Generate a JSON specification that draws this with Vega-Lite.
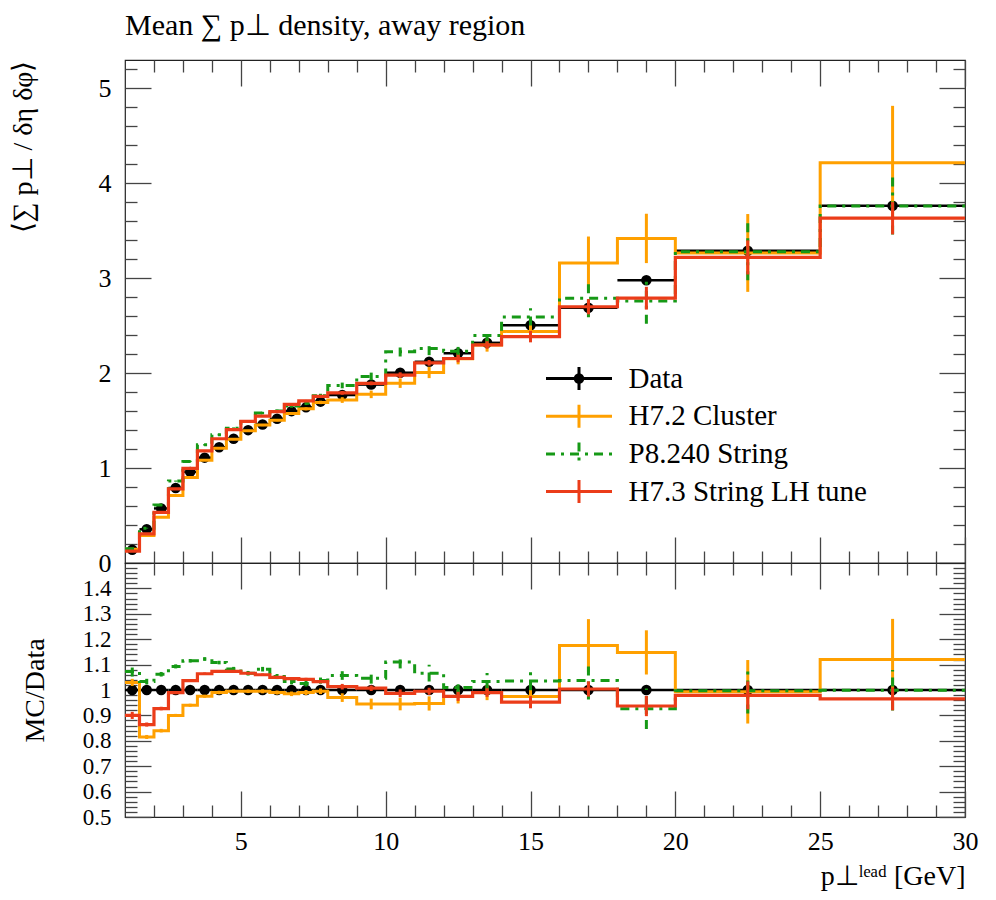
{
  "$schema": "https://vega.github.io/schema/vega-lite/v6.json",
  "padding": {"left": 8, "top": 10, "right": 0, "bottom": 0},
  "background": "white",
  "config": {
    "font": "Liberation Serif",
    "view": {"stroke": "#222", "strokeWidth": 1.2},
    "axis": {"domain": false, "grid": false, "tickColor": "#444", "tickWidth": 1.3, "labelFont": "Liberation Serif", "labelFontSize": 26, "labelColor": "#000", "labelFlush": false, "labelOverlap": false, "titleFont": "Liberation Serif", "titleFontSize": 28, "titleFontWeight": "normal", "titleColor": "#000"}
  },
  "datasets": {
    "h": [
      {"s":"Data","xlo":1,"xhi":1.5,"x":1.25,"y":0.14,"e":0.002,"r":1,"re":0.014},
      {"s":"Data","xlo":1.5,"xhi":2,"x":1.75,"y":0.355,"e":0.003,"r":1,"re":0.008},
      {"s":"Data","xlo":2,"xhi":2.5,"x":2.25,"y":0.575,"e":0.004,"r":1,"re":0.007},
      {"s":"Data","xlo":2.5,"xhi":3,"x":2.75,"y":0.79,"e":0.005,"r":1,"re":0.006},
      {"s":"Data","xlo":3,"xhi":3.5,"x":3.25,"y":0.96,"e":0.005,"r":1,"re":0.005},
      {"s":"Data","xlo":3.5,"xhi":4,"x":3.75,"y":1.11,"e":0.005,"r":1,"re":0.005},
      {"s":"Data","xlo":4,"xhi":4.5,"x":4.25,"y":1.22,"e":0.006,"r":1,"re":0.005},
      {"s":"Data","xlo":4.5,"xhi":5,"x":4.75,"y":1.31,"e":0.006,"r":1,"re":0.005},
      {"s":"Data","xlo":5,"xhi":5.5,"x":5.25,"y":1.40,"e":0.006,"r":1,"re":0.004},
      {"s":"Data","xlo":5.5,"xhi":6,"x":5.75,"y":1.46,"e":0.006,"r":1,"re":0.004},
      {"s":"Data","xlo":6,"xhi":6.5,"x":6.25,"y":1.52,"e":0.007,"r":1,"re":0.005},
      {"s":"Data","xlo":6.5,"xhi":7,"x":6.75,"y":1.60,"e":0.007,"r":1,"re":0.004},
      {"s":"Data","xlo":7,"xhi":7.5,"x":7.25,"y":1.64,"e":0.007,"r":1,"re":0.004},
      {"s":"Data","xlo":7.5,"xhi":8,"x":7.75,"y":1.70,"e":0.008,"r":1,"re":0.005},
      {"s":"Data","xlo":8,"xhi":9,"x":8.5,"y":1.77,"e":0.008,"r":1,"re":0.005},
      {"s":"Data","xlo":9,"xhi":10,"x":9.5,"y":1.88,"e":0.01,"r":1,"re":0.005},
      {"s":"Data","xlo":10,"xhi":11,"x":10.5,"y":2.005,"e":0.012,"r":1,"re":0.006},
      {"s":"Data","xlo":11,"xhi":12,"x":11.5,"y":2.12,"e":0.014,"r":1,"re":0.007},
      {"s":"Data","xlo":12,"xhi":13,"x":12.5,"y":2.21,"e":0.016,"r":1,"re":0.007},
      {"s":"Data","xlo":13,"xhi":14,"x":13.5,"y":2.32,"e":0.02,"r":1,"re":0.009},
      {"s":"Data","xlo":14,"xhi":16,"x":15,"y":2.505,"e":0.02,"r":1,"re":0.008},
      {"s":"Data","xlo":16,"xhi":18,"x":17,"y":2.69,"e":0.03,"r":1,"re":0.011},
      {"s":"Data","xlo":18,"xhi":20,"x":19,"y":2.98,"e":0.04,"r":1,"re":0.013},
      {"s":"Data","xlo":20,"xhi":25,"x":22.5,"y":3.29,"e":0.04,"r":1,"re":0.012},
      {"s":"Data","xlo":25,"xhi":30,"x":27.5,"y":3.765,"e":0.06,"r":1,"re":0.016},

      {"s":"H7.2 Cluster","xlo":1,"xhi":1.5,"x":1.25,"y":0.144,"e":0.002,"r":1.03,"re":0.014},
      {"s":"H7.2 Cluster","xlo":1.5,"xhi":2,"x":1.75,"y":0.289,"e":0.003,"r":0.815,"re":0.008},
      {"s":"H7.2 Cluster","xlo":2,"xhi":2.5,"x":2.25,"y":0.483,"e":0.004,"r":0.84,"re":0.007},
      {"s":"H7.2 Cluster","xlo":2.5,"xhi":3,"x":2.75,"y":0.711,"e":0.005,"r":0.90,"re":0.006},
      {"s":"H7.2 Cluster","xlo":3,"xhi":3.5,"x":3.25,"y":0.902,"e":0.006,"r":0.94,"re":0.006},
      {"s":"H7.2 Cluster","xlo":3.5,"xhi":4,"x":3.75,"y":1.082,"e":0.007,"r":0.975,"re":0.006},
      {"s":"H7.2 Cluster","xlo":4,"xhi":4.5,"x":4.25,"y":1.208,"e":0.008,"r":0.99,"re":0.007},
      {"s":"H7.2 Cluster","xlo":4.5,"xhi":5,"x":4.75,"y":1.303,"e":0.009,"r":0.995,"re":0.007},
      {"s":"H7.2 Cluster","xlo":5,"xhi":5.5,"x":5.25,"y":1.393,"e":0.01,"r":0.995,"re":0.007},
      {"s":"H7.2 Cluster","xlo":5.5,"xhi":6,"x":5.75,"y":1.453,"e":0.011,"r":0.995,"re":0.008},
      {"s":"H7.2 Cluster","xlo":6,"xhi":6.5,"x":6.25,"y":1.505,"e":0.012,"r":0.99,"re":0.008},
      {"s":"H7.2 Cluster","xlo":6.5,"xhi":7,"x":6.75,"y":1.576,"e":0.014,"r":0.985,"re":0.009},
      {"s":"H7.2 Cluster","xlo":7,"xhi":7.5,"x":7.25,"y":1.624,"e":0.016,"r":0.99,"re":0.01},
      {"s":"H7.2 Cluster","xlo":7.5,"xhi":8,"x":7.75,"y":1.692,"e":0.018,"r":0.995,"re":0.011},
      {"s":"H7.2 Cluster","xlo":8,"xhi":9,"x":8.5,"y":1.717,"e":0.03,"r":0.97,"re":0.017},
      {"s":"H7.2 Cluster","xlo":9,"xhi":10,"x":9.5,"y":1.777,"e":0.04,"r":0.945,"re":0.021},
      {"s":"H7.2 Cluster","xlo":10,"xhi":11,"x":10.5,"y":1.895,"e":0.05,"r":0.945,"re":0.025},
      {"s":"H7.2 Cluster","xlo":11,"xhi":12,"x":11.5,"y":2.008,"e":0.06,"r":0.947,"re":0.028},
      {"s":"H7.2 Cluster","xlo":12,"xhi":13,"x":12.5,"y":2.153,"e":0.06,"r":0.974,"re":0.027},
      {"s":"H7.2 Cluster","xlo":13,"xhi":14,"x":13.5,"y":2.297,"e":0.07,"r":0.99,"re":0.03},
      {"s":"H7.2 Cluster","xlo":14,"xhi":16,"x":15,"y":2.44,"e":0.09,"r":0.974,"re":0.036},
      {"s":"H7.2 Cluster","xlo":16,"xhi":18,"x":17,"y":3.16,"e":0.28,"r":1.175,"re":0.104},
      {"s":"H7.2 Cluster","xlo":18,"xhi":20,"x":19,"y":3.42,"e":0.26,"r":1.148,"re":0.087},
      {"s":"H7.2 Cluster","xlo":20,"xhi":25,"x":22.5,"y":3.267,"e":0.41,"r":0.993,"re":0.125},
      {"s":"H7.2 Cluster","xlo":25,"xhi":30,"x":27.5,"y":4.217,"e":0.6,"r":1.12,"re":0.16},

      {"s":"P8.240 String","xlo":1,"xhi":1.5,"x":1.25,"y":0.150,"e":0.003,"r":1.073,"re":0.02},
      {"s":"P8.240 String","xlo":1.5,"xhi":2,"x":1.75,"y":0.367,"e":0.004,"r":1.033,"re":0.011},
      {"s":"P8.240 String","xlo":2,"xhi":2.5,"x":2.25,"y":0.611,"e":0.005,"r":1.062,"re":0.009},
      {"s":"P8.240 String","xlo":2.5,"xhi":3,"x":2.75,"y":0.863,"e":0.006,"r":1.093,"re":0.008},
      {"s":"P8.240 String","xlo":3,"xhi":3.5,"x":3.25,"y":1.070,"e":0.007,"r":1.115,"re":0.007},
      {"s":"P8.240 String","xlo":3.5,"xhi":4,"x":3.75,"y":1.245,"e":0.008,"r":1.122,"re":0.007},
      {"s":"P8.240 String","xlo":4,"xhi":4.5,"x":4.25,"y":1.352,"e":0.009,"r":1.108,"re":0.007},
      {"s":"P8.240 String","xlo":4.5,"xhi":5,"x":4.75,"y":1.419,"e":0.01,"r":1.083,"re":0.008},
      {"s":"P8.240 String","xlo":5,"xhi":5.5,"x":5.25,"y":1.492,"e":0.012,"r":1.066,"re":0.009},
      {"s":"P8.240 String","xlo":5.5,"xhi":6,"x":5.75,"y":1.580,"e":0.013,"r":1.082,"re":0.009},
      {"s":"P8.240 String","xlo":6,"xhi":6.5,"x":6.25,"y":1.601,"e":0.015,"r":1.053,"re":0.01},
      {"s":"P8.240 String","xlo":6.5,"xhi":7,"x":6.75,"y":1.653,"e":0.017,"r":1.033,"re":0.011},
      {"s":"P8.240 String","xlo":7,"xhi":7.5,"x":7.25,"y":1.683,"e":0.019,"r":1.026,"re":0.012},
      {"s":"P8.240 String","xlo":7.5,"xhi":8,"x":7.75,"y":1.763,"e":0.02,"r":1.037,"re":0.012},
      {"s":"P8.240 String","xlo":8,"xhi":9,"x":8.5,"y":1.871,"e":0.03,"r":1.057,"re":0.017},
      {"s":"P8.240 String","xlo":9,"xhi":10,"x":9.5,"y":1.966,"e":0.04,"r":1.046,"re":0.021},
      {"s":"P8.240 String","xlo":10,"xhi":11,"x":10.5,"y":2.226,"e":0.05,"r":1.11,"re":0.025},
      {"s":"P8.240 String","xlo":11,"xhi":12,"x":11.5,"y":2.260,"e":0.07,"r":1.066,"re":0.033},
      {"s":"P8.240 String","xlo":12,"xhi":13,"x":12.5,"y":2.232,"e":0.05,"r":1.01,"re":0.023},
      {"s":"P8.240 String","xlo":13,"xhi":14,"x":13.5,"y":2.397,"e":0.08,"r":1.033,"re":0.034},
      {"s":"P8.240 String","xlo":14,"xhi":16,"x":15,"y":2.593,"e":0.09,"r":1.035,"re":0.036},
      {"s":"P8.240 String","xlo":16,"xhi":18,"x":17,"y":2.79,"e":0.2,"r":1.037,"re":0.074},
      {"s":"P8.240 String","xlo":18,"xhi":20,"x":19,"y":2.76,"e":0.24,"r":0.926,"re":0.08},
      {"s":"P8.240 String","xlo":20,"xhi":25,"x":22.5,"y":3.28,"e":0.3,"r":0.997,"re":0.09},
      {"s":"P8.240 String","xlo":25,"xhi":30,"x":27.5,"y":3.761,"e":0.3,"r":0.999,"re":0.08},

      {"s":"H7.3 String LH tune","xlo":1,"xhi":1.5,"x":1.25,"y":0.126,"e":0.002,"r":0.90,"re":0.014},
      {"s":"H7.3 String LH tune","xlo":1.5,"xhi":2,"x":1.75,"y":0.307,"e":0.003,"r":0.864,"re":0.008},
      {"s":"H7.3 String LH tune","xlo":2,"xhi":2.5,"x":2.25,"y":0.533,"e":0.004,"r":0.927,"re":0.007},
      {"s":"H7.3 String LH tune","xlo":2.5,"xhi":3,"x":2.75,"y":0.782,"e":0.005,"r":0.99,"re":0.006},
      {"s":"H7.3 String LH tune","xlo":3,"xhi":3.5,"x":3.25,"y":0.996,"e":0.005,"r":1.037,"re":0.005},
      {"s":"H7.3 String LH tune","xlo":3.5,"xhi":4,"x":3.75,"y":1.181,"e":0.006,"r":1.064,"re":0.005},
      {"s":"H7.3 String LH tune","xlo":4,"xhi":4.5,"x":4.25,"y":1.309,"e":0.006,"r":1.073,"re":0.005},
      {"s":"H7.3 String LH tune","xlo":4.5,"xhi":5,"x":4.75,"y":1.406,"e":0.007,"r":1.073,"re":0.005},
      {"s":"H7.3 String LH tune","xlo":5,"xhi":5.5,"x":5.25,"y":1.492,"e":0.007,"r":1.066,"re":0.005},
      {"s":"H7.3 String LH tune","xlo":5.5,"xhi":6,"x":5.75,"y":1.548,"e":0.008,"r":1.06,"re":0.005},
      {"s":"H7.3 String LH tune","xlo":6,"xhi":6.5,"x":6.25,"y":1.596,"e":0.008,"r":1.05,"re":0.005},
      {"s":"H7.3 String LH tune","xlo":6.5,"xhi":7,"x":6.75,"y":1.672,"e":0.009,"r":1.045,"re":0.006},
      {"s":"H7.3 String LH tune","xlo":7,"xhi":7.5,"x":7.25,"y":1.709,"e":0.009,"r":1.042,"re":0.006},
      {"s":"H7.3 String LH tune","xlo":7.5,"xhi":8,"x":7.75,"y":1.756,"e":0.01,"r":1.033,"re":0.006},
      {"s":"H7.3 String LH tune","xlo":8,"xhi":9,"x":8.5,"y":1.793,"e":0.02,"r":1.013,"re":0.011},
      {"s":"H7.3 String LH tune","xlo":9,"xhi":10,"x":9.5,"y":1.893,"e":0.02,"r":1.007,"re":0.011},
      {"s":"H7.3 String LH tune","xlo":10,"xhi":11,"x":10.5,"y":1.979,"e":0.03,"r":0.987,"re":0.015},
      {"s":"H7.3 String LH tune","xlo":11,"xhi":12,"x":11.5,"y":2.109,"e":0.03,"r":0.995,"re":0.014},
      {"s":"H7.3 String LH tune","xlo":12,"xhi":13,"x":12.5,"y":2.155,"e":0.04,"r":0.975,"re":0.018},
      {"s":"H7.3 String LH tune","xlo":13,"xhi":14,"x":13.5,"y":2.297,"e":0.04,"r":0.99,"re":0.017},
      {"s":"H7.3 String LH tune","xlo":14,"xhi":16,"x":15,"y":2.385,"e":0.06,"r":0.952,"re":0.024},
      {"s":"H7.3 String LH tune","xlo":16,"xhi":18,"x":17,"y":2.70,"e":0.08,"r":1.004,"re":0.03},
      {"s":"H7.3 String LH tune","xlo":18,"xhi":20,"x":19,"y":2.79,"e":0.12,"r":0.937,"re":0.04},
      {"s":"H7.3 String LH tune","xlo":20,"xhi":25,"x":22.5,"y":3.22,"e":0.18,"r":0.979,"re":0.055},
      {"s":"H7.3 String LH tune","xlo":25,"xhi":30,"x":27.5,"y":3.633,"e":0.17,"r":0.965,"re":0.045}
    ]
  },
  "data": {"name": "h"},
  "spacing": 0,
  "bounds": "flush",
  "vconcat": [
    {
      "width": 840,
      "height": 503,
      "title": {"text": "Mean ∑ p⊥ density, away region", "anchor": "start", "frame": "group", "fontSize": 30, "font": "Liberation Serif", "fontWeight": "normal", "color": "#000", "offset": 18},
      "resolve": {"axis": {"x": "independent", "y": "independent"}},
      "layer": [
        {
          "transform": [{"filter": {"field": "s", "equal": "Data"}}],
          "mark": {"type": "rule", "strokeWidth": 2.5, "color": "#000000"},
          "encoding": {
            "x": {"field": "xlo", "type": "quantitative", "scale": {"domain": [1, 30], "nice": false, "zero": false}, "axis": {"orient": "bottom", "values": [5,10,15,20,25,30], "tickSize": -26, "labels": false, "title": null}},
            "x2": {"field": "xhi"},
            "y": {"field": "y", "type": "quantitative", "scale": {"domain": [0, 5.3], "nice": false, "zero": false}, "axis": {"orient": "left", "values": [0,1,2,3,4,5], "format": "d", "tickSize": -26, "labelPadding": 40, "title": "⟨∑ p⊥ / δη δφ⟩", "titleAnchor": "end", "titleX": -88, "titleBaseline": "bottom"}}
          }
        },
        {
          "transform": [{"filter": {"field": "s", "equal": "Data"}}],
          "mark": {"type": "errorbar", "thickness": 2.5, "color": "#000000"},
          "encoding": {
            "x": {"field": "x", "type": "quantitative", "scale": {"domain": [1, 30], "nice": false, "zero": false}, "axis": null},
            "y": {"field": "y", "type": "quantitative", "scale": {"domain": [0, 5.3], "nice": false, "zero": false}, "axis": null},
            "yError": {"field": "e"}
          }
        },
        {
          "transform": [{"filter": {"field": "s", "equal": "Data"}}],
          "mark": {"type": "point", "filled": true, "size": 110, "opacity": 1, "color": "#000000"},
          "encoding": {
            "x": {"field": "x", "type": "quantitative", "scale": {"domain": [1, 30], "nice": false, "zero": false}, "axis": {"orient": "bottom", "values": [2,3,4,6,7,8,9,11,12,13,14,16,17,18,19,21,22,23,24,26,27,28,29], "tickSize": -12, "labels": false, "title": null}},
            "y": {"field": "y", "type": "quantitative", "scale": {"domain": [0, 5.3], "nice": false, "zero": false}, "axis": {"orient": "left", "values": [0.2,0.4,0.6,0.8,1.2,1.4,1.6,1.8,2.2,2.4,2.6,2.8,3.2,3.4,3.6,3.8,4.2,4.4,4.6,4.8,5.2], "tickSize": -12, "labels": false, "title": null}},
            "shape": {"field": "s", "type": "nominal", "scale": {"domain": ["Data"], "range": ["circle"]},
              "legend": {"orient": "none", "legendX": 421, "legendY": 304, "title": null, "padding": 0, "offset": 0, "labelFont": "Liberation Serif", "labelFontSize": 29, "labelExpr": "''", "labelOpacity": 0, "symbolSize": 110, "symbolOffset": 18.5, "symbolFillColor": "#000000", "symbolStrokeWidth": 0, "rowPadding": 2.7}}
          }
        },
        {
          "transform": [{"filter": {"field": "s", "equal": "H7.2 Cluster"}}, {"fold": ["xlo", "xhi"], "as": ["edge", "xv"]}],
          "mark": {"type": "line", "strokeWidth": 3, "strokeJoin": "miter"},
          "encoding": {
            "x": {"field": "xv", "type": "quantitative", "scale": {"domain": [1, 30], "nice": false, "zero": false}, "axis": {"orient": "top", "values": [5,10,15,20,25,30], "tickSize": -26, "labels": false, "title": null}},
            "y": {"field": "y", "type": "quantitative", "scale": {"domain": [0, 5.3], "nice": false, "zero": false}, "axis": {"orient": "right", "values": [0,1,2,3,4,5], "tickSize": -26, "labels": false, "title": null}},
            "order": [{"field": "xv", "type": "quantitative"}, {"field": "xlo", "type": "quantitative"}],
            "color": {"field": "s", "type": "nominal", "scale": {"domain": ["Data", "H7.2 Cluster", "P8.240 String", "H7.3 String LH tune"], "range": ["#000000", "#ffa000", "#169916", "#eb3c19"]},
              "legend": {"orient": "none", "legendX": 421, "legendY": 304, "title": null, "padding": 0, "offset": 0, "labelFont": "Liberation Serif", "labelFontSize": 29, "labelColor": "#000", "labelLimit": 0, "symbolType": "M-6.6,0H6.6M0,-2.3V2.3", "symbolSize": 100, "symbolStrokeWidth": 3, "symbolOffset": 18.5, "labelOffset": 35, "rowPadding": 2.7}},
            "strokeDash": {"field": "s", "type": "nominal", "scale": {"domain": ["Data", "H7.2 Cluster", "P8.240 String", "H7.3 String LH tune"], "range": [[1, 0], [1, 0], [9, 6, 3, 6], [1, 0]]},
              "legend": {"orient": "none", "legendX": 421, "legendY": 304, "title": null, "padding": 0, "offset": 0, "labelFont": "Liberation Serif", "labelFontSize": 29, "labelColor": "#000", "labelLimit": 0, "symbolType": "M-6.6,0H6.6M0,-2.3V2.3", "symbolSize": 100, "symbolStrokeWidth": 3, "symbolOffset": 18.5, "labelOffset": 35, "rowPadding": 2.7}}
          }
        },
        {
          "transform": [{"filter": {"field": "s", "equal": "H7.2 Cluster"}}],
          "mark": {"type": "errorbar", "thickness": 3, "color": "#ffa000"},
          "encoding": {
            "x": {"field": "x", "type": "quantitative", "scale": {"domain": [1, 30], "nice": false, "zero": false}, "axis": null},
            "y": {"field": "y", "type": "quantitative", "scale": {"domain": [0, 5.3], "nice": false, "zero": false}, "axis": null},
            "yError": {"field": "e"}
          }
        },
        {
          "transform": [{"filter": {"field": "s", "equal": "P8.240 String"}}, {"fold": ["xlo", "xhi"], "as": ["edge", "xv"]}],
          "mark": {"type": "line", "strokeWidth": 3, "strokeJoin": "miter", "strokeDash": [9, 6, 3, 6], "color": "#169916"},
          "encoding": {
            "x": {"field": "xv", "type": "quantitative", "scale": {"domain": [1, 30], "nice": false, "zero": false}, "axis": {"orient": "top", "values": [2,3,4,6,7,8,9,11,12,13,14,16,17,18,19,21,22,23,24,26,27,28,29], "tickSize": -12, "labels": false, "title": null}},
            "y": {"field": "y", "type": "quantitative", "scale": {"domain": [0, 5.3], "nice": false, "zero": false}, "axis": {"orient": "right", "values": [0.2,0.4,0.6,0.8,1.2,1.4,1.6,1.8,2.2,2.4,2.6,2.8,3.2,3.4,3.6,3.8,4.2,4.4,4.6,4.8,5.2], "tickSize": -12, "labels": false, "title": null}},
            "order": [{"field": "xv", "type": "quantitative"}, {"field": "xlo", "type": "quantitative"}]
          }
        },
        {
          "transform": [{"filter": {"field": "s", "equal": "P8.240 String"}}],
          "mark": {"type": "errorbar", "thickness": 3, "color": "#169916", "rule": {"strokeDash": [9, 6, 3, 6]}},
          "encoding": {
            "x": {"field": "x", "type": "quantitative", "scale": {"domain": [1, 30], "nice": false, "zero": false}, "axis": null},
            "y": {"field": "y", "type": "quantitative", "scale": {"domain": [0, 5.3], "nice": false, "zero": false}, "axis": null},
            "yError": {"field": "e"}
          }
        },
        {
          "transform": [{"filter": {"field": "s", "equal": "H7.3 String LH tune"}}, {"fold": ["xlo", "xhi"], "as": ["edge", "xv"]}],
          "mark": {"type": "line", "strokeWidth": 3.2, "strokeJoin": "miter", "color": "#eb3c19"},
          "encoding": {
            "x": {"field": "xv", "type": "quantitative", "scale": {"domain": [1, 30], "nice": false, "zero": false}, "axis": null},
            "y": {"field": "y", "type": "quantitative", "scale": {"domain": [0, 5.3], "nice": false, "zero": false}, "axis": null},
            "order": [{"field": "xv", "type": "quantitative"}, {"field": "xlo", "type": "quantitative"}]
          }
        },
        {
          "transform": [{"filter": {"field": "s", "equal": "H7.3 String LH tune"}}],
          "mark": {"type": "errorbar", "thickness": 3, "color": "#eb3c19"},
          "encoding": {
            "x": {"field": "x", "type": "quantitative", "scale": {"domain": [1, 30], "nice": false, "zero": false}, "axis": null},
            "y": {"field": "y", "type": "quantitative", "scale": {"domain": [0, 5.3], "nice": false, "zero": false}, "axis": null},
            "yError": {"field": "e"}
          }
        }
      ]
    },
    {
      "width": 840,
      "height": 254,
      "resolve": {"axis": {"x": "independent", "y": "independent"}},
      "layer": [
        {
          "transform": [{"filter": {"field": "s", "equal": "Data"}}],
          "mark": {"type": "rule", "strokeWidth": 2.5, "color": "#000000"},
          "encoding": {
            "x": {"field": "xlo", "type": "quantitative", "scale": {"domain": [1, 30], "nice": false, "zero": false}, "axis": {"orient": "bottom", "values": [5,10,15,20,25,30], "format": "d", "tickSize": -26, "labelPadding": 37, "title": "p⊥ˡᵉᵃᵈ [GeV]", "titleAnchor": "end", "titlePadding": 8}},
            "x2": {"field": "xhi"},
            "y": {"field": "r", "type": "quantitative", "scale": {"domain": [0.5, 1.5], "nice": false, "zero": false}, "axis": {"orient": "left", "values": [0.5,0.6,0.7,0.8,0.9,1,1.1,1.2,1.3,1.4], "format": "~g", "labelFontSize": 23, "tickSize": -26, "labelPadding": 40, "title": "MC/Data", "titleAnchor": "middle", "titleX": -76, "titleBaseline": "bottom"}}
          }
        },
        {
          "transform": [{"filter": {"field": "s", "equal": "Data"}}],
          "mark": {"type": "errorbar", "thickness": 2.5, "color": "#000000"},
          "encoding": {
            "x": {"field": "x", "type": "quantitative", "scale": {"domain": [1, 30], "nice": false, "zero": false}, "axis": null},
            "y": {"field": "r", "type": "quantitative", "scale": {"domain": [0.5, 1.5], "nice": false, "zero": false}, "axis": null},
            "yError": {"field": "re"}
          }
        },
        {
          "transform": [{"filter": {"field": "s", "equal": "Data"}}],
          "mark": {"type": "point", "filled": true, "size": 110, "opacity": 1, "color": "#000000"},
          "encoding": {
            "x": {"field": "x", "type": "quantitative", "scale": {"domain": [1, 30], "nice": false, "zero": false}, "axis": {"orient": "bottom", "values": [2,3,4,6,7,8,9,11,12,13,14,16,17,18,19,21,22,23,24,26,27,28,29], "tickSize": -12, "labels": false, "title": null}},
            "y": {"field": "r", "type": "quantitative", "scale": {"domain": [0.5, 1.5], "nice": false, "zero": false}, "axis": {"orient": "left", "values": [0.52,0.54,0.56,0.58,0.62,0.64,0.66,0.68,0.72,0.74,0.76,0.78,0.82,0.84,0.86,0.88,0.92,0.94,0.96,0.98,1.02,1.04,1.06,1.08,1.12,1.14,1.16,1.18,1.22,1.24,1.26,1.28,1.32,1.34,1.36,1.38,1.42,1.44,1.46,1.48], "tickSize": -12, "labels": false, "title": null}}
          }
        },
        {
          "transform": [{"filter": {"field": "s", "equal": "H7.2 Cluster"}}, {"fold": ["xlo", "xhi"], "as": ["edge", "xv"]}],
          "mark": {"type": "line", "strokeWidth": 3, "strokeJoin": "miter", "color": "#ffa000"},
          "encoding": {
            "x": {"field": "xv", "type": "quantitative", "scale": {"domain": [1, 30], "nice": false, "zero": false}, "axis": {"orient": "top", "values": [5,10,15,20,25,30], "tickSize": -26, "labels": false, "title": null}},
            "y": {"field": "r", "type": "quantitative", "scale": {"domain": [0.5, 1.5], "nice": false, "zero": false}, "axis": {"orient": "right", "values": [0.5,0.6,0.7,0.8,0.9,1,1.1,1.2,1.3,1.4], "tickSize": -26, "labels": false, "title": null}},
            "order": [{"field": "xv", "type": "quantitative"}, {"field": "xlo", "type": "quantitative"}]
          }
        },
        {
          "transform": [{"filter": {"field": "s", "equal": "H7.2 Cluster"}}],
          "mark": {"type": "errorbar", "thickness": 3, "color": "#ffa000"},
          "encoding": {
            "x": {"field": "x", "type": "quantitative", "scale": {"domain": [1, 30], "nice": false, "zero": false}, "axis": null},
            "y": {"field": "r", "type": "quantitative", "scale": {"domain": [0.5, 1.5], "nice": false, "zero": false}, "axis": null},
            "yError": {"field": "re"}
          }
        },
        {
          "transform": [{"filter": {"field": "s", "equal": "P8.240 String"}}, {"fold": ["xlo", "xhi"], "as": ["edge", "xv"]}],
          "mark": {"type": "line", "strokeWidth": 3, "strokeJoin": "miter", "strokeDash": [9, 6, 3, 6], "color": "#169916"},
          "encoding": {
            "x": {"field": "xv", "type": "quantitative", "scale": {"domain": [1, 30], "nice": false, "zero": false}, "axis": {"orient": "top", "values": [2,3,4,6,7,8,9,11,12,13,14,16,17,18,19,21,22,23,24,26,27,28,29], "tickSize": -12, "labels": false, "title": null}},
            "y": {"field": "r", "type": "quantitative", "scale": {"domain": [0.5, 1.5], "nice": false, "zero": false}, "axis": {"orient": "right", "values": [0.52,0.54,0.56,0.58,0.62,0.64,0.66,0.68,0.72,0.74,0.76,0.78,0.82,0.84,0.86,0.88,0.92,0.94,0.96,0.98,1.02,1.04,1.06,1.08,1.12,1.14,1.16,1.18,1.22,1.24,1.26,1.28,1.32,1.34,1.36,1.38,1.42,1.44,1.46,1.48], "tickSize": -12, "labels": false, "title": null}},
            "order": [{"field": "xv", "type": "quantitative"}, {"field": "xlo", "type": "quantitative"}]
          }
        },
        {
          "transform": [{"filter": {"field": "s", "equal": "P8.240 String"}}],
          "mark": {"type": "errorbar", "thickness": 3, "color": "#169916", "rule": {"strokeDash": [9, 6, 3, 6]}},
          "encoding": {
            "x": {"field": "x", "type": "quantitative", "scale": {"domain": [1, 30], "nice": false, "zero": false}, "axis": null},
            "y": {"field": "r", "type": "quantitative", "scale": {"domain": [0.5, 1.5], "nice": false, "zero": false}, "axis": null},
            "yError": {"field": "re"}
          }
        },
        {
          "transform": [{"filter": {"field": "s", "equal": "H7.3 String LH tune"}}, {"fold": ["xlo", "xhi"], "as": ["edge", "xv"]}],
          "mark": {"type": "line", "strokeWidth": 3.2, "strokeJoin": "miter", "color": "#eb3c19"},
          "encoding": {
            "x": {"field": "xv", "type": "quantitative", "scale": {"domain": [1, 30], "nice": false, "zero": false}, "axis": null},
            "y": {"field": "r", "type": "quantitative", "scale": {"domain": [0.5, 1.5], "nice": false, "zero": false}, "axis": null},
            "order": [{"field": "xv", "type": "quantitative"}, {"field": "xlo", "type": "quantitative"}]
          }
        },
        {
          "transform": [{"filter": {"field": "s", "equal": "H7.3 String LH tune"}}],
          "mark": {"type": "errorbar", "thickness": 3, "color": "#eb3c19"},
          "encoding": {
            "x": {"field": "x", "type": "quantitative", "scale": {"domain": [1, 30], "nice": false, "zero": false}, "axis": null},
            "y": {"field": "r", "type": "quantitative", "scale": {"domain": [0.5, 1.5], "nice": false, "zero": false}, "axis": null},
            "yError": {"field": "re"}
          }
        }
      ]
    }
  ]
}
